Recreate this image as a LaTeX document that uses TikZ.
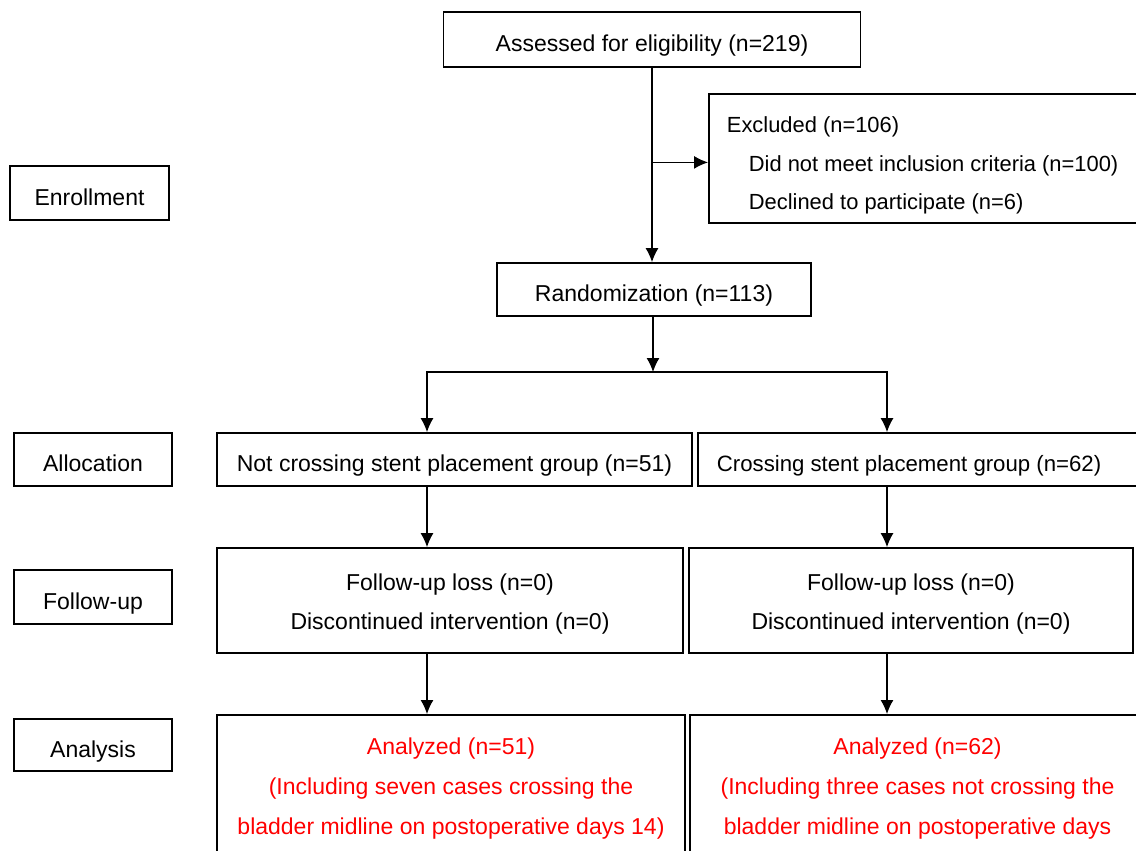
\documentclass[tikz,border=0pt]{standalone}
\usepackage{fontspec}
\setmainfont{Liberation Sans}
\usetikzlibrary{arrows.meta}

\begin{document}
\begin{tikzpicture}
[x=0.5pt,y=-0.5pt,
 box/.style={draw,line width=0.9pt,font=\fontsize{11.5pt}{19.5pt}\selectfont,align=center,
             text height=12.2pt,text depth=0pt},
 stage/.style={box,minimum width=79pt,minimum height=26.5pt},
 arr/.style={line width=0.6pt,-{Latex[length=7pt,width=6.5pt]}}]

\clip (0,0) rectangle (1136,851);

% stage labels
\node[stage,minimum width=79.5pt,minimum height=27pt] (enroll) at (89.5,193) {Enrollment};
\node[stage] (alloc) at (93,459.5) {Allocation};
\node[stage,minimum height=27pt] (follow) at (93,597) {Follow-up};
\node[stage,minimum height=26pt] (analys) at (93,745) {Analysis};

% flow boxes
\node[box,minimum width=208.5pt,minimum height=27.5pt] (assess) at (652,39.5) {Assessed for eligibility (n=219)};
\node[box,anchor=north west,align=flush left,text width=235pt,inner xsep=9pt,inner ysep=0pt,
      font=\fontsize{10.95pt}{19.25pt}\selectfont,text height=19.5pt,text depth=45pt] (excl) at (708,93)
  {Excluded (n=106)\\ \hspace*{11pt}Did not meet inclusion criteria (n=100)\\ \hspace*{11pt}Declined to participate (n=6)};
\node[box,minimum width=157pt,minimum height=26.5pt] (rand) at (654,289.5) {Randomization (n=113)};

\node[box,minimum width=237.5pt,minimum height=26.5pt] (notcross) at (454.5,459.5) {Not crossing stent placement group (n=51)};
\node[box,anchor=west,align=flush left,text width=211pt,inner xsep=9.5pt,minimum height=26.5pt,
      font=\fontsize{11.1pt}{19.5pt}\selectfont] (cross) at (697,459.5) {Crossing stent placement group (n=62)};

\node[box,minimum width=233pt,minimum height=52.5pt,text height=28.5pt] (fuL) at (450,600.5) {Follow-up loss (n=0)\\ Discontinued intervention (n=0)};
\node[box,minimum width=222pt,minimum height=52.5pt,text height=28.5pt] (fuR) at (911,600.5) {Follow-up loss (n=0)\\ Discontinued intervention (n=0)};

\node[box,text=red,font=\fontsize{11.5pt}{20pt}\selectfont,anchor=north,minimum width=234pt,inner ysep=0pt,
      text height=60pt,text depth=150pt] (anL) at (451,714)
  {Analyzed (n=51)\\ (Including seven cases crossing the\\ bladder midline on postoperative days 14)};
\node[box,text=red,font=\fontsize{11.5pt}{20pt}\selectfont,anchor=north,minimum width=227.5pt,inner ysep=0pt,
      text height=60pt,text depth=150pt] (anR) at (917.5,714)
  {Analyzed (n=62)\\ (Including three cases not crossing the\\ bladder midline on postoperative days};

% split points
\coordinate (split) at (653,372);
\coordinate (lft) at (427,372);
\coordinate (rgt) at (887,372);

\draw[arr] (assess.south) -- (assess.south |- rand.north);
\draw[arr] ([yshift=-2pt]assess.south |- excl.west) -- ([yshift=-2pt]excl.west);
\draw[arr] (rand.south -| split) -- (split);
\draw[arr] (split) -| (lft |- notcross.north);
\draw[arr] (split) -| (rgt |- cross.north);

\draw[arr] (lft |- notcross.south) -- (lft |- fuL.north);
\draw[arr] (rgt |- cross.south) -- (rgt |- fuR.north);
\draw[arr] (lft |- fuL.south) -- (lft |- anL.north);
\draw[arr] (rgt |- fuR.south) -- (rgt |- anR.north);
\end{tikzpicture}
\end{document}
